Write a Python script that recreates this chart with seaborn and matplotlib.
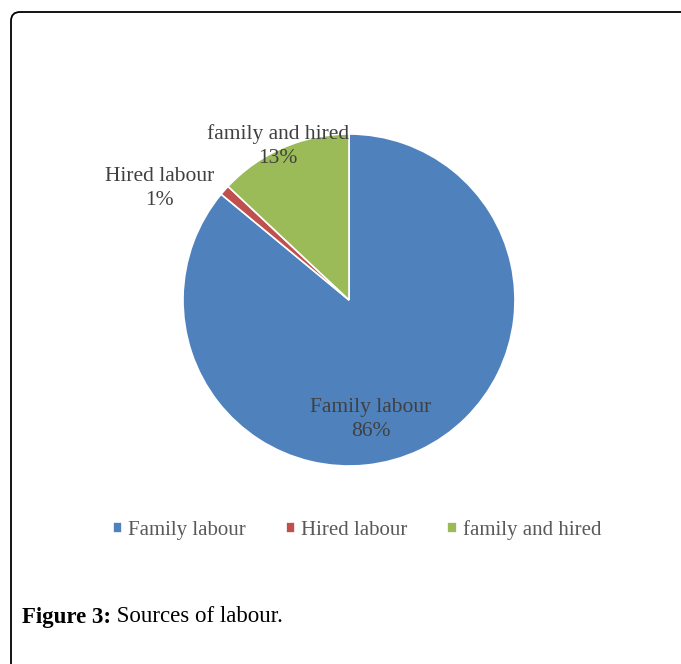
import matplotlib
matplotlib.use("Agg")
import matplotlib.pyplot as plt
from matplotlib.patches import FancyBboxPatch
import seaborn as sns

# =========================
# DATA
# =========================

sources = ["Family labour", "Hired labour", "family and hired"]
shares = [86, 1, 13]
colors = ["#4F81BD", "#C0504D", "#9BBB59"]

caption_bold = "Figure 3:"
caption_text = " Sources of labour."

# =========================
# FIGURE
# =========================

sns.set_style("white")
plt.rcParams["font.family"] = ["Liberation Serif", "DejaVu Serif"]

W, H = 681, 664
fig = plt.figure(figsize=(W / 100, H / 100), dpi=100)

# background axes in pixel units for frame and caption
bg = fig.add_axes([0, 0, 1, 1])
bg.set_xlim(0, W)
bg.set_ylim(H, 0)
bg.axis("off")
bg.add_patch(FancyBboxPatch((11, 12), 720, 720,
                            boxstyle="round,pad=0,rounding_size=9",
                            fill=False, edgecolor="black", linewidth=1.3))

# pie axes: centre (349, 300), radius 166 px
cx, cy, r = 349, 300, 166
ax = fig.add_axes([(cx - r) / W, (H - cy - r) / H, 2 * r / W, 2 * r / H])
wedges, _ = ax.pie(shares, colors=colors, startangle=90, counterclock=False,
                   radius=1, wedgeprops=dict(edgecolor="white", linewidth=1.2))
ax.set_xlim(-1, 1)
ax.set_ylim(-1, 1)
ax.set_aspect("equal")
ax.axis("off")

# data labels (Excel style placement)
label_pos = [(0.13, -0.72), (-1.14, 0.67), (-0.43, 0.93)]
for name, val, (x, y) in zip(sources, shares, label_pos):
    ax.text(x, y, f"{name}\n{val}%", ha="center", va="center",
            fontsize=15.5, color="#404040", linespacing=1.35)

# legend
fig.legend(wedges, sources, loc="center", ncol=3,
           bbox_to_anchor=(357 / W, 1 - 530 / H), frameon=False,
           fontsize=15, handlelength=0.45, handleheight=0.4,
           handletextpad=0.3, columnspacing=1.9, labelcolor="#595959")

# caption
t = bg.text(22, 617, caption_bold, fontsize=16.5, fontweight="bold",
            va="center", ha="left", color="black")
fig.canvas.draw()
bb = t.get_window_extent()
bg.text(22 + bb.width, 617, caption_text, fontsize=16.5,
        va="center", ha="left", color="black")

plt.savefig("out.png", dpi=100)
